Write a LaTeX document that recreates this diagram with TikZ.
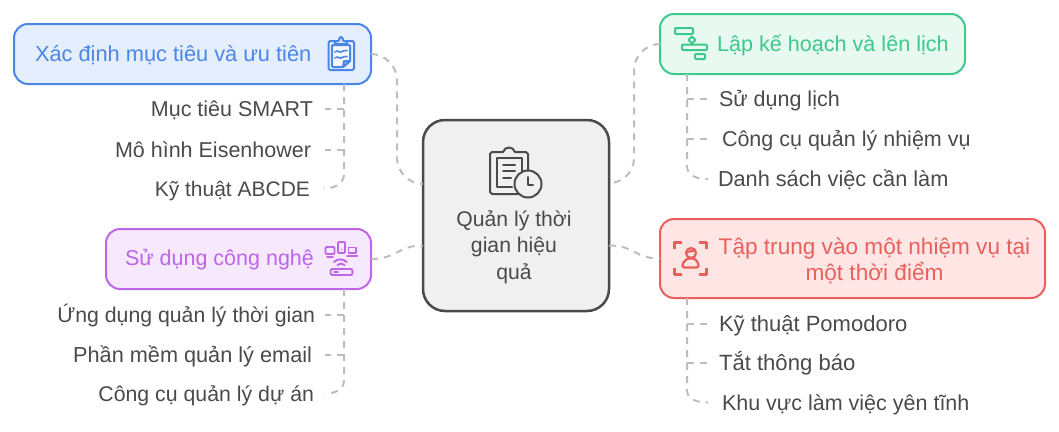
\documentclass[tikz,border=0pt]{standalone}
\usepackage{fontspec}
\setmainfont{Liberation Sans}
\usetikzlibrary{calc}
\definecolor{txt}{HTML}{4A4A4A}
\definecolor{conn}{HTML}{BDBDBD}
\definecolor{blueS}{HTML}{4A86E8}\definecolor{blueF}{HTML}{E5EEFD}
\definecolor{greenS}{HTML}{3CC98B}\definecolor{greenF}{HTML}{E8F9F1}
\definecolor{purpS}{HTML}{BE65E8}\definecolor{purpF}{HTML}{F6E8FD}
\definecolor{redS}{HTML}{E8605C}\definecolor{redF}{HTML}{FFE6E4}
\definecolor{hubS}{HTML}{4A4A4A}\definecolor{hubF}{HTML}{F0F0F0}
\tikzset{
 x=1pt,y=-1pt,
 boxbase/.style={draw,rounded corners=14pt,line width=2pt,inner sep=0pt,outer sep=0pt},
 leaf/.style={text=txt,inner sep=0pt,outer sep=0pt,text height=15pt,text depth=0pt,font=\fontsize{#1}{24}\selectfont},
 leaf/.default=21.5,
 title/.style={inner sep=0pt,outer sep=0pt,font=\fontsize{21.6}{26}\selectfont,align=center},
 dashline/.style={draw=conn,line width=2pt,dash pattern=on 7pt off 6pt},
 icon/.style={line width=2pt,line join=round,line cap=round}
}
\begin{document}
\begin{tikzpicture}
\useasboundingbox (0,0) rectangle (1059,431);
\node[boxbase,draw=hubS,fill=hubF,line width=2.5pt,rounded corners=22pt,minimum width=186pt,minimum height=191pt] (hub) at (516,215.5) {};
\node[boxbase,draw=blueS,fill=blueF,minimum width=357pt,minimum height=60pt] (A) at (192.5,54) {};
\node[boxbase,draw=greenS,fill=greenF,minimum width=305pt,minimum height=60pt] (B) at (812.5,44) {};
\node[boxbase,draw=purpS,fill=purpF,minimum width=265pt,minimum height=60pt] (C) at (238.5,259) {};
\node[boxbase,draw=redS,fill=redF,minimum width=385pt,minimum height=79pt] (D) at (852.5,258.5) {};

\node[title,text=blueS,anchor=west,font=\fontsize{21.8}{26}\selectfont] (At) at (35,55) {Xác định mục tiêu và ưu tiên};
\node[title,text=greenS,anchor=west] (Bt) at (717,45) {Lập kế hoạch và lên lịch};
\node[title,text=purpS,anchor=west,font=\fontsize{21.5}{26}\selectfont] (Ct) at (125,259.5) {Sử dụng công nghệ};
\node[title,text=redS,font=\fontsize{22.6}{26}\selectfont] (Dt) at (874.5,261) {Tập trung vào một nhiệm vụ tại\\một thời điểm};
\node[title,text=txt,font=\fontsize{21.2}{26.7}\selectfont] (Ht) at (514,247) {Quản lý thời\\gian hiệu\\quả};

\node[leaf,anchor=east] (a1) at (313,109) {Mục tiêu SMART};
\node[leaf,anchor=east] (a2) at (311,149.5) {Mô hình Eisenhower};
\node[leaf=21,anchor=east] (a3) at (310,188.5) {Kỹ thuật ABCDE};
\node[leaf=21.25,anchor=east] (c1) at (315,315.2) {Ứng dụng quản lý thời gian};
\node[leaf=21.7,anchor=east] (c2) at (312,354.8) {Phần mềm quản lý email};
\node[leaf=21.3,anchor=east] (c3) at (314,393.5) {Công cụ quản lý dự án};
\node[leaf,anchor=west] (b1) at (719,99) {Sử dụng lịch};
\node[leaf,anchor=west] (b2) at (722,139.2) {Công cụ quản lý nhiệm vụ};
\node[leaf=21.7,anchor=west] (b3) at (718,179.2) {Danh sách việc cần làm};
\node[leaf=22,anchor=west] (d1) at (719,324.2) {Kỹ thuật Pomodoro};
\node[leaf=22.1,anchor=west] (d2) at (719,362.8) {Tắt thông báo};
\node[leaf,anchor=west] (d3) at (722,402.5) {Khu vực làm việc yên tĩnh};

% hub links
\draw[dashline] (A.east) .. controls +(14,0) and +(0,-14) .. ++(26,26) -- ++(0,78) .. controls +(0,14) and +(-14,0) .. ([yshift=31.5]hub.west);
\draw[dashline] (B.west) .. controls +(-14,0) and +(0,-14) .. ++(-26,26) -- ++(0,88) .. controls +(0,14) and +(14,0) .. ([yshift=32.5]hub.east);
\draw[dashline] (C.east) .. controls +(26,0) and +(-26,0) .. ([yshift=-30]hub.west);
\draw[dashline] ([yshift=-30]hub.east) .. controls +(26,0) and +(-26,0) .. (D.west);

% leaf links
\draw[dashline] ([xshift=151.5]A.south) -- ++(0,90) .. controls +(0,10) and +(10,0) .. ([xshift=14]a3.east);
\draw[dashline] ([xshift=151.5]A.south |- a1.east) -- ([xshift=12]a1.east);
\draw[dashline] ([xshift=151.5]A.south |- a2.east) -- ([xshift=14]a2.east);
\draw[dashline] ([xshift=-125.5]B.south) -- ++(0,92) .. controls +(0,10) and +(-10,0) .. ([xshift=-10]b3.west);
\draw[dashline] ([xshift=-125.5]B.south |- b1.west) -- ([xshift=-12]b1.west);
\draw[dashline] ([xshift=-125.5]B.south |- b2.west) -- ([xshift=-15]b2.west);
\draw[dashline] ([xshift=105.5]C.south) -- ++(0,91) .. controls +(0,10) and +(10,0) .. ([xshift=11]c3.east);
\draw[dashline] ([xshift=105.5]C.south |- c1.east) -- ([xshift=10]c1.east);
\draw[dashline] ([xshift=105.5]C.south |- c2.east) -- ([xshift=13]c2.east);
\draw[dashline] ([xshift=-165.5]D.south) -- ++(0,92) .. controls +(0,10) and +(-10,0) .. ([xshift=-14]d3.west);
\draw[dashline] ([xshift=-165.5]D.south |- d1.west) -- ([xshift=-12]d1.west);
\draw[dashline] ([xshift=-165.5]D.south |- d2.west) -- ([xshift=-12]d2.west);

% blue clipboard icon
\begin{scope}[icon,draw=blueS]
 \draw[rounded corners=1.5pt] (335,41) -- (328.5,41) -- (328.5,70) -- (354,70) -- (354,41) -- (347,41);
 \draw[fill=white,fill opacity=.6,rounded corners=1pt] (332,45) -- (350,45) -- (350,61) -- (343,67) -- (332,67) -- cycle;
 \draw[fill=blueS!25,rounded corners=1pt] (335,44) -- (335,41) -- (339,41) .. controls (339,36) and (343,36) .. (343,41) -- (347,41) -- (347,44) -- cycle;
 \draw[fill=blueS!50] (343,67) -- (344,61) -- (350,61) -- cycle;
 \draw[line width=1.6pt] (335,52) .. controls (338,49) and (340,54) .. (342,51.5) .. controls (344,49) and (345,52) .. (347,50.5);
 \draw[line width=1.6pt] (335,58) .. controls (338,55) and (340,60) .. (342,57.5) .. controls (344,55) and (345,58) .. (347,56.5);
\end{scope}

% green gantt icon
\begin{scope}[icon,draw=greenS]
 \draw[rounded corners=1pt] (675,28) rectangle (693,34);
 \draw (692,36.5) -- (695.5,40) -- (692,43.5) -- (688.5,40) -- cycle;
 \draw[rounded corners=1pt] (682,44.5) rectangle (707,50);
 \draw[rounded corners=1pt] (695,54) rectangle (705,59);
\end{scope}

% hub icon
\begin{scope}[icon,draw=hubS,line width=2pt]
 \draw (518,194) -- (492,194) -- (490,192) -- (490,154) -- (492,152) -- (503,152) .. controls (505,146) and (513,146) .. (515,152) -- (526,152) -- (528,154) -- (528,170);
 \draw (512,187) -- (497,187) -- (497,158) -- (522,158) -- (522,172);
 \draw (503,164.5) -- (515,164.5) (503,171) -- (515,171) (503,178) -- (511,178);
 \draw (528,184) circle (13.5);
 \draw (528,177) -- (528,185) -- (533,185);
\end{scope}

% purple devices icon
\begin{scope}[icon,draw=purpS,line width=1.9pt]
 \draw[rounded corners=1pt] (325.5,247) rectangle (334.5,254);
 \draw (327,257) -- (333,257);
 \draw[rounded corners=1pt] (338,242) rectangle (345,253);
 \draw (341.5,249.5) -- (341.5,249.6);
 \draw (348.5,247.5) rectangle (356,253);
 \draw (347,256) -- (357.5,256);
 \draw (334,262) arc[start angle=-135,end angle=-45,radius=9];
 \draw (337.5,265) arc[start angle=-135,end angle=-45,radius=5];
 \draw[rounded corners=2pt] (330.5,269) rectangle (352.5,275);
 \draw (334,272) -- (338,272);
\end{scope}

% red focus icon
\begin{scope}[icon,draw=redS,line cap=butt,line width=2.2pt]
 \draw (674.5,249) -- (674.5,242.5) -- (682,242.5);
 \draw (699,242.5) -- (706.5,242.5) -- (706.5,249);
 \draw (674.5,268) -- (674.5,274.5) -- (682,274.5);
 \draw (699,274.5) -- (706.5,274.5) -- (706.5,268);
 \draw (691,253) circle (5);
 \draw (686.5,252) -- (695.5,250.5);
 \draw[rounded corners=2pt] (682.5,267.5) -- (698.5,267.5) .. controls (698.5,262) and (695,258.5) .. (691,258.5) .. controls (687,258.5) and (682.5,262) .. (682.5,267.5) -- cycle;
\end{scope}
\end{tikzpicture}
\end{document}
